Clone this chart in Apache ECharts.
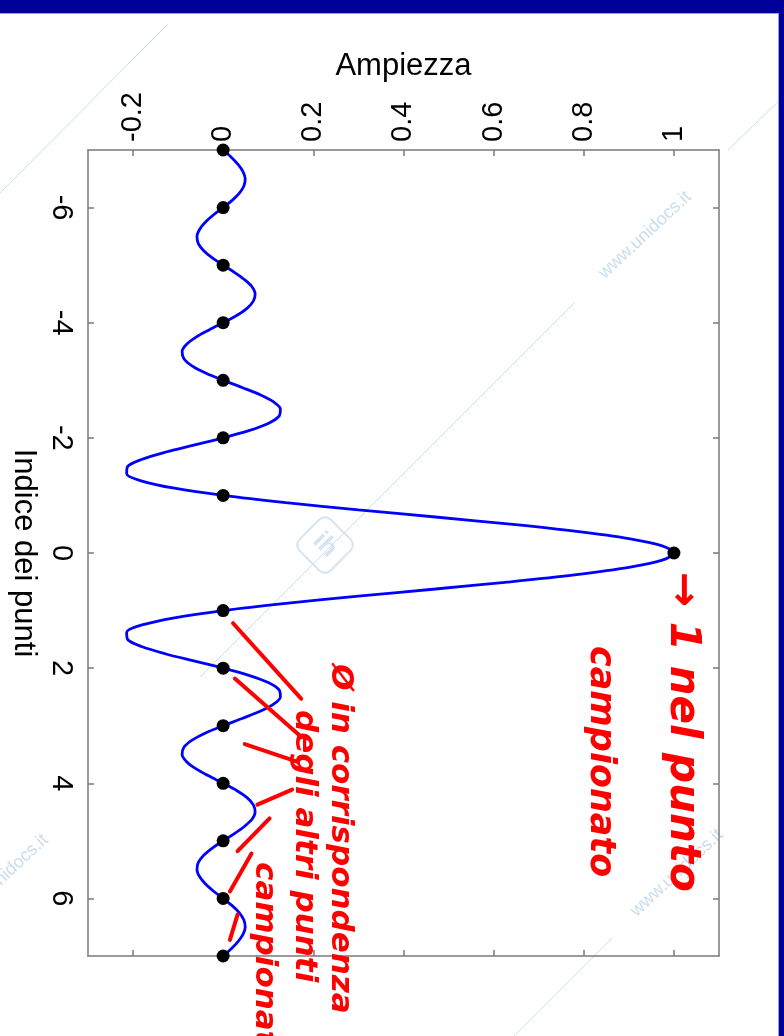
<!DOCTYPE html>
<html>
<head>
<meta charset="utf-8">
<script src="https://cdn.jsdelivr.net/npm/echarts@6/dist/echarts.min.js"></script>
<style>
  html, body { margin: 0; padding: 0; background: #ffffff; }
  #chart { width: 784px; height: 1036px; }
</style>
</head>
<body>
<div id="chart"></div>
<script>
// Sample points (integer indices) and their amplitude
const sampleIndex = [-7, -6, -5, -4, -3, -2, -1, 0, 1, 2, 3, 4, 5, 6, 7];
const sampleValues = [0, 0, 0, 0, 0, 0, 0, 1, 0, 0, 0, 0, 0, 0, 0];

// Continuous interpolating curve, one value every 1/8 of an index, from -7 to 7
const curveStep = 0.125;
const curveStart = -7;
const curveValues = [
  0, 0.018, 0.033, 0.044, 0.049, 0.046, 0.036, 0.020,
  0, -0.021, -0.039, -0.052, -0.058, -0.055, -0.043, -0.024,
  0, 0.025, 0.047, 0.064, 0.071, 0.067, 0.053, 0.030,
  0, -0.031, -0.060, -0.081, -0.091, -0.087, -0.069, -0.039,
  0, 0.042, 0.082, 0.112, 0.127, 0.124, 0.100, 0.057,
  0, -0.065, -0.129, -0.181, -0.212, -0.214, -0.180, -0.108,
  0, 0.139, 0.300, 0.471, 0.637, 0.784, 0.900, 0.974,
  1,
  0.974, 0.900, 0.784, 0.637, 0.471, 0.300, 0.139, 0,
  -0.108, -0.180, -0.214, -0.212, -0.181, -0.129, -0.065, 0,
  0.057, 0.100, 0.124, 0.127, 0.112, 0.082, 0.042, 0,
  -0.039, -0.069, -0.087, -0.091, -0.081, -0.060, -0.031, 0,
  0.030, 0.053, 0.067, 0.071, 0.064, 0.047, 0.025, 0,
  -0.024, -0.043, -0.055, -0.058, -0.052, -0.039, -0.021, 0,
  0.020, 0.036, 0.046, 0.049, 0.044, 0.033, 0.018, 0
];

// Tick labels
const ampTicks = [-0.2, 0, 0.2, 0.4, 0.6, 0.8, 1];
const indexTicks = [-6, -4, -2, 0, 2, 4, 6];

// Hand-drawn pointer strokes: [amp, index] -> [amp, index]
const pointerStrokes = [
  [[0.022, 1.22], [0.173, 2.53]],
  [[0.026, 2.18], [0.173, 3.19]],
  [[0.048, 3.32], [0.162, 3.62]],
  [[0.076, 4.37], [0.153, 4.11]],
  [[0.032, 5.18], [0.103, 4.61]],
  [[0.015, 5.88], [0.063, 5.22]],
  [[0.015, 6.72], [0.032, 6.28]]
];

const curveData = curveValues.map((v, i) => [v, curveStart + i * curveStep]);
const sampleData = sampleIndex.map((k, i) => [sampleValues[i], k]);

const FONT = '"Liberation Sans", Arial, Helvetica, sans-serif';
const HAND = '"DejaVu Sans", sans-serif';
const AXIS_COLOR = '#7a7a7a';
const WM = '#c9ddef';

const axisLineStyle = { color: AXIS_COLOR, width: 1.5 };

function ampLabel(v) { return String(Math.round(v * 10) / 10); }

const baseX = {
  type: 'value', min: -0.3, max: 1.1,
  axisLine: { show: true, onZero: false, lineStyle: axisLineStyle },
  axisTick: { show: true, inside: true, length: 6, customValues: ampTicks, lineStyle: axisLineStyle },
  splitLine: { show: false }
};
const baseY = {
  type: 'value', min: -7, max: 7, inverse: true,
  axisLine: { show: true, onZero: false, lineStyle: axisLineStyle },
  axisTick: { show: true, inside: true, length: 6, customValues: indexTicks, lineStyle: axisLineStyle },
  splitLine: { show: false }
};

function rotText(text, x, y, size, opts) {
  return Object.assign({
    type: 'text', x: x, y: y, rotation: -Math.PI / 2, z: 20,
    style: {
      text: text, fill: '#ff0000', font: 'italic bold ' + size + 'px ' + HAND,
      align: 'left', verticalAlign: 'middle'
    }
  }, opts || {});
}

function watermark(x, y, text) {
  return {
    type: 'text', x: x, y: y, rotation: 43 * Math.PI / 180, z: -1,
    style: { text: text, fill: WM, font: '18px ' + FONT, align: 'center', verticalAlign: 'middle' }
  };
}

function wmLine(x1, y1, x2, y2) {
  return { type: 'line', z: -1, shape: { x1: x1, y1: y1, x2: x2, y2: y2 }, style: { stroke: WM, lineWidth: 1 } };
}

const chart = echarts.init(document.getElementById('chart'), null, { renderer: 'canvas' });

chart.setOption({
  animation: false,
  backgroundColor: '#ffffff',
  grid: { left: 83, right: 65, top: 150, bottom: 80, show: false },
  xAxis: [
    Object.assign({}, baseX, {
      position: 'top',
      name: 'Ampiezza', nameLocation: 'middle', nameGap: 68,
      nameTextStyle: { fontFamily: FONT, fontSize: 31, color: '#000' },
      axisLabel: {
        customValues: ampTicks, rotate: -90, margin: 8,
        fontFamily: FONT, fontSize: 29, color: '#000', formatter: ampLabel
      }
    }),
    Object.assign({}, baseX, { position: 'bottom', axisLabel: { show: false } })
  ],
  yAxis: [
    Object.assign({}, baseY, {
      position: 'left',
      name: 'Indice dei punti', nameLocation: 'middle', nameRotate: -90, nameGap: 42,
      nameTextStyle: { fontFamily: FONT, fontSize: 31, color: '#000' },
      axisLabel: {
        customValues: indexTicks, rotate: -90, margin: 12,
        fontFamily: FONT, fontSize: 29, color: '#000'
      }
    }),
    Object.assign({}, baseY, { position: 'right', axisLabel: { show: false } })
  ],
  series: [
    {
      type: 'line', data: curveData, xAxisIndex: 0, yAxisIndex: 0,
      showSymbol: false, smooth: 0.3,
      lineStyle: { color: '#0000ff', width: 2.8 }, z: 3
    },
    {
      type: 'scatter', data: sampleData, xAxisIndex: 0, yAxisIndex: 0,
      symbol: 'circle', symbolSize: 13,
      itemStyle: { color: '#000000', opacity: 1 }, z: 4,
      markLine: {
        silent: true, symbol: ['none', 'none'], z: 6,
        label: { show: false },
        lineStyle: { color: '#ff0000', width: 4, type: 'solid', cap: 'round', opacity: 1 },
        emphasis: { disabled: true },
        data: pointerStrokes.map(s => [{ coord: s[0] }, { coord: s[1] }])
      }
    }
  ],
  graphic: {
    elements: [
      // frame bands
      { type: 'rect', z: 30, shape: { x: 0, y: 0, width: 784, height: 13 }, style: { fill: '#00009a' } },
      { type: 'rect', z: 30, shape: { x: 0, y: 13, width: 784, height: 1 }, style: { fill: '#9a9ae0' } },
      { type: 'rect', z: 30, shape: { x: 779, y: 0, width: 5, height: 1036 }, style: { fill: '#00009a' } },
      { type: 'rect', z: 30, shape: { x: 778, y: 14, width: 1, height: 1022 }, style: { fill: '#9a9ae0' } },

      // site watermark
      wmLine(0, 193, 167, 25),
      wmLine(784, 96, 728, 150),
      wmLine(575, 302, 200, 677),
      wmLine(612, 938, 505, 1045),
      watermark(645, 235, 'www.unidocs.it'),
      watermark(677, 873, 'www.unidocs.it'),
      watermark(2, 878, 'www.unidocs.it'),
      {
        type: 'rect', z: -1, x: 325, y: 545, rotation: Math.PI / 4,
        shape: { x: -22, y: -22, width: 44, height: 44, r: 8 },
        style: { fill: 'none', stroke: '#d4e4f2', lineWidth: 2 }
      },
      {
        type: 'text', z: -1, x: 325, y: 545, rotation: -Math.PI / 4,
        style: { text: 'ih', fill: '#d4e4f2', font: 'bold 26px ' + FONT, align: 'center', verticalAlign: 'middle' }
      },

      // handwritten notes
      rotText('\u2192 1 nel punto', 682, 572, 42),
      rotText('campionato', 600, 646, 35),
      rotText('\u00D8 in corrispondenza', 340, 664, 31),
      rotText('degli altri punti', 304, 710, 31),
      rotText('campionati', 264, 862, 31)
    ]
  }
});
</script>
</body>
</html>
